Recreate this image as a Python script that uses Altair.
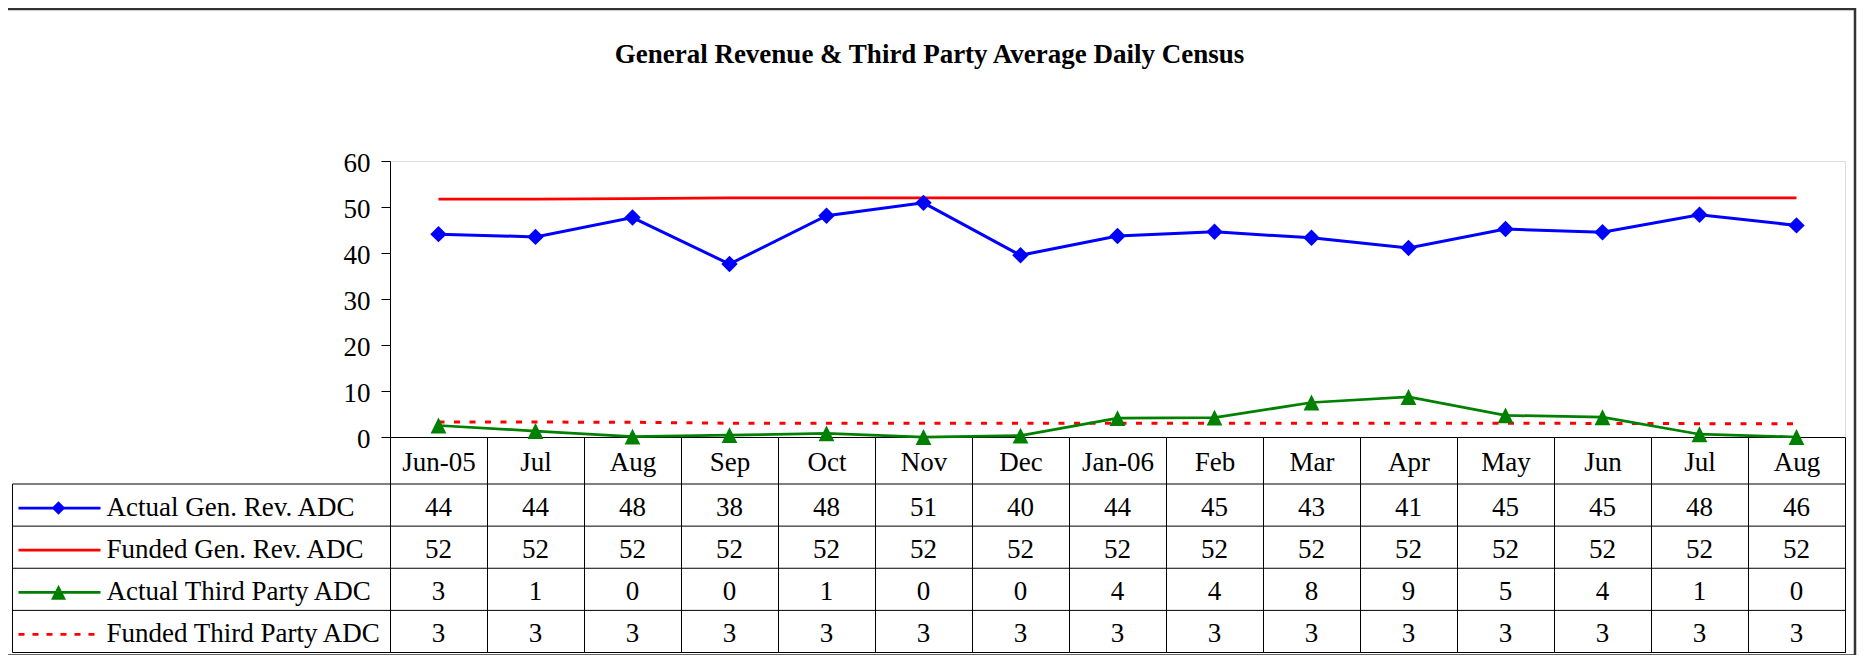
import json
import altair as alt
import pandas as pd

# ---------------- data ----------------
months = ["Jun-05", "Jul", "Aug", "Sep", "Oct", "Nov", "Dec", "Jan-06",
          "Feb", "Mar", "Apr", "May", "Jun", "Jul", "Aug"]

actual_gen = [44.1, 43.5, 47.7, 37.6, 48.1, 50.9, 39.5, 43.7,
              44.6, 43.3, 41.1, 45.2, 44.5, 48.3, 46.0]
funded_gen = [51.7, 51.7, 51.8, 52.0, 52.0, 52.0, 52.0, 52.0,
              52.0, 52.0, 52.0, 52.0, 52.0, 52.0, 52.0]
actual_tp = [2.5, 1.3, 0.1, 0.4, 0.8, 0.0, 0.3, 4.1,
             4.2, 7.5, 8.7, 4.7, 4.3, 0.6, 0.0]
funded_tp = [3.25, 3.25, 3.2, 3.0, 3.0, 3.0, 3.0, 3.0,
             3.0, 3.0, 3.0, 3.0, 2.95, 2.9, 2.9]

series_names = ["Actual Gen. Rev. ADC", "Funded Gen. Rev. ADC",
                "Actual Third Party ADC", "Funded Third Party ADC"]

table_actual_gen = [44, 44, 48, 38, 48, 51, 40, 44, 45, 43, 41, 45, 45, 48, 46]
table_funded_gen = [52, 52, 52, 52, 52, 52, 52, 52, 52, 52, 52, 52, 52, 52, 52]
table_actual_tp = [3, 1, 0, 0, 1, 0, 0, 4, 4, 8, 9, 5, 4, 1, 0]
table_funded_tp = [3, 3, 3, 3, 3, 3, 3, 3, 3, 3, 3, 3, 3, 3, 3]

y_ticks = [0, 10, 20, 30, 40, 50, 60]
title_text = "General Revenue & Third Party Average Daily Census"

# ---------------- layout / style ----------------
FONT = "Liberation Serif"
FS = 27
PW, PH = 1455, 276
TABLE_TOP, TABLE_BOT = 323, 491.5
LEG_LEFT = -377.5

BLUE, RED, GREEN = "#0000FF", "#FF0000", "#008000"

idx = list(range(len(months)))


def frame(vals):
    return pd.DataFrame({"idx": idx, "v": vals})


label_expr = json.dumps(months) + "[datum.value]"

xscale = alt.Scale(type="band", paddingInner=0, paddingOuter=0)
xaxis = alt.Axis(title=None, labelExpr=label_expr, tickBand="extent",
                 tickSize=TABLE_BOT - PH, tickColor="black", tickWidth=1,
                 domainColor="black", domainWidth=1,
                 labelPadding=25 - (TABLE_BOT - PH), labelBaseline="middle",
                 labelFont=FONT, labelFontSize=FS, labelColor="black",
                 labelAngle=0, grid=False, labelOverlap=False)
yscale = alt.Scale(domain=[0, 60], nice=False, zero=True)
yaxis = alt.Axis(title=None, values=y_ticks, tickSize=9, tickColor="black",
                 tickWidth=1, domainColor="black", domainWidth=1,
                 labelPadding=11, labelFont=FONT, labelFontSize=FS,
                 labelColor="black", grid=False, labelOffset=2)

X = alt.X("idx:O", scale=xscale, axis=xaxis)
Y = alt.Y("v:Q", scale=yscale, axis=yaxis)

TRI = "M0,-1L1,1L-1,1Z"

l_fg = alt.Chart(frame(funded_gen)).mark_line(
    color=RED, strokeWidth=2.75).encode(x=X, y=Y)
l_ftp = alt.Chart(frame(funded_tp)).mark_line(
    color=RED, strokeWidth=3, strokeDash=[6, 9.5]).encode(x=X, y=Y)
l_ag = alt.Chart(frame(actual_gen)).mark_line(
    color=BLUE, strokeWidth=3).encode(x=X, y=Y)
l_atp = alt.Chart(frame(actual_tp)).mark_line(
    color=GREEN, strokeWidth=2.75).encode(x=X, y=Y)
p_ag = alt.Chart(frame(actual_gen)).mark_point(
    shape="diamond", size=270, filled=True, color=BLUE, opacity=1).encode(x=X, y=Y)
p_atp = alt.Chart(frame(actual_tp)).mark_point(
    shape=TRI, size=250, filled=True, color=GREEN, opacity=1).encode(x=X, y=Y)

main = alt.layer(l_fg, l_ftp, l_ag, l_atp, p_ag, p_atp)

# ---------------- data table ----------------
rscale = alt.Scale(domain=[0, 4], range=[TABLE_TOP, TABLE_BOT], nice=False, zero=False)


def R(field):
    return alt.Y(field, type="quantitative", scale=rscale, axis=None)


table_rows = [table_actual_gen, table_funded_gen, table_actual_tp, table_funded_tp]
recs = []
for i, row in enumerate(table_rows):
    for j, val in enumerate(row):
        recs.append({"idx": j, "r": i + 0.5, "t": str(val)})
vals_df = pd.DataFrame(recs)

values_text = alt.Chart(vals_df).mark_text(
    font=FONT, fontSize=FS, color="black", baseline="middle", align="center", dy=3
).encode(x=X, y=R("r"), text="t:N")

edges_df = pd.DataFrame({"r": [0, 1, 2, 3, 4]})
row_rules = alt.Chart(edges_df).mark_rule(color="black", strokeWidth=1).encode(
    y=R("r"), x=alt.value(LEG_LEFT), x2=alt.value(PW))

left_df = pd.DataFrame({"r0": [0], "r1": [4]})
left_rule = alt.Chart(left_df).mark_rule(color="black", strokeWidth=1).encode(
    x=alt.value(LEG_LEFT), y=R("r0"), y2=alt.Y2("r1"))

names_df = pd.DataFrame({"name": series_names, "r": [i + 0.5 for i in range(4)]})
legend_text = alt.Chart(names_df).mark_text(
    font=FONT, fontSize=FS, color="black", baseline="middle", align="left", dy=3
).encode(x=alt.value(-283.5), y=R("r"), text="name:N")


def leg_line(i, color, dash=None):
    kw = dict(color=color, strokeWidth=2.75, yOffset=3)
    if dash:
        kw["strokeDash"] = dash
    d = pd.DataFrame({"r": [i + 0.5]})
    return alt.Chart(d).mark_rule(**kw).encode(
        x=alt.value(-371.5), x2=alt.value(-289.5), y=R("r"))


def leg_point(i, color, shape, size):
    d = pd.DataFrame({"r": [i + 0.5]})
    return alt.Chart(d).mark_point(shape=shape, size=size, filled=True,
                                   color=color, opacity=1, yOffset=3).encode(
        x=alt.value(-331.5), y=R("r"))


border_df = pd.DataFrame({"a": [0]})
border = alt.Chart(border_df).mark_rect(
    fill="transparent", stroke="#333333", strokeWidth=2.5
).encode(x=alt.value(-387), x2=alt.value(1465),
         y=alt.value(-152), y2=alt.value(494.5))

table = alt.layer(
    row_rules, left_rule, values_text, legend_text,
    leg_line(0, BLUE), leg_line(1, RED), leg_line(2, GREEN),
    leg_line(3, RED, [6, 8]),
    leg_point(0, BLUE, "diamond", 180), leg_point(2, GREEN, TRI, 225),
    border,
)

chart = alt.layer(main, table).resolve_scale(y="independent").properties(
    width=PW, height=PH,
    title=alt.TitleParams(text=title_text, font=FONT, fontSize=FS,
                          fontWeight="bold", color="black", anchor="middle",
                          frame="group", offset=-61, dx=-188),
    padding={"left": 382, "top": 153, "right": 17, "bottom": 218},
    autosize=alt.AutoSizeParams(type="none"),
).configure_view(stroke=None).configure_axis(
    labelFont=FONT, labelFontSize=FS, labelColor="black"
).configure(background="white", font=FONT)

chart.save("out.html", embed_options={"renderer": "svg", "actions": False})
